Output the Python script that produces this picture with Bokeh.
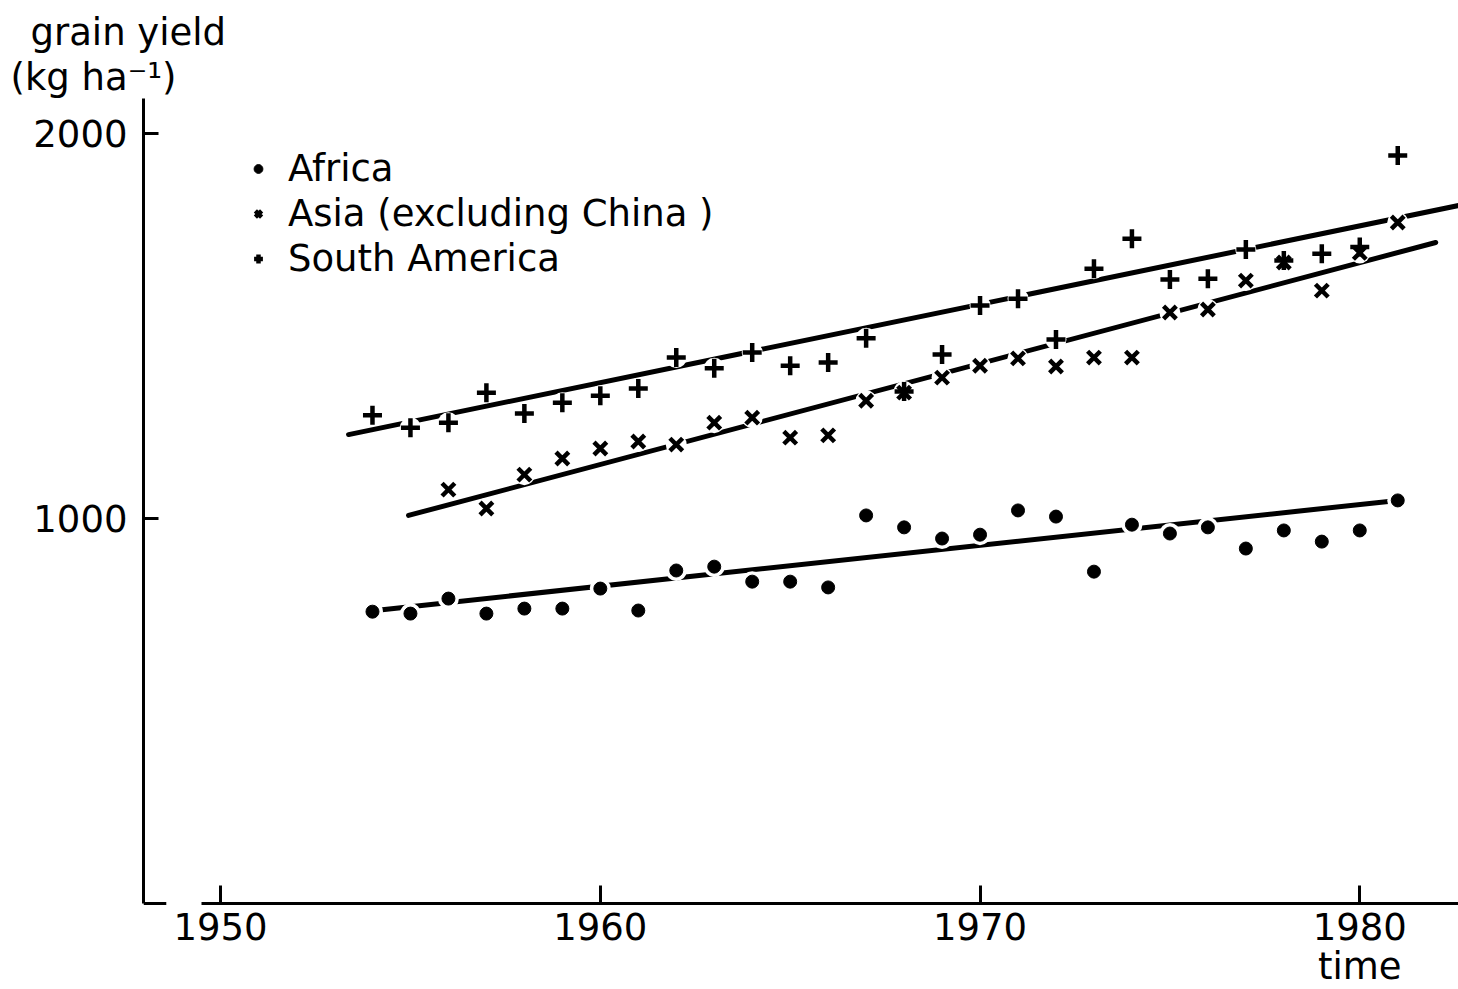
from bokeh.plotting import figure
from bokeh.models import FixedTicker, Legend, LegendItem, Range1d, Title, LinearAxis
from bokeh.embed import file_html
from bokeh.resources import INLINE

# ---- data ----
years_africa = list(range(1954, 1982))
africa = [758, 753, 792, 753, 766, 766, 818, 761, 865, 875, 836, 836, 821, 1008,
          977, 948, 958, 1021, 1005, 862, 984, 961, 977, 922, 969, 940, 969, 1047]

years_asia = list(range(1956, 1982))
asia = [1075, 1026, 1114, 1156, 1182, 1200, 1192, 1249, 1262, 1210, 1216, 1306,
        1327, 1366, 1397, 1416, 1395, 1418, 1418, 1535, 1543, 1618, 1665, 1592,
        1690, 1769]

years_south_america = list(range(1954, 1982))
south_america = [1268, 1236, 1249, 1327, 1273, 1301, 1319, 1338, 1418, 1390, 1431,
                 1397, 1405, 1468, 1330, 1426, 1553, 1571, 1465, 1649, 1727, 1621,
                 1623, 1699, 1670, 1688, 1705, 1943]

# fitted trend lines (end points)
trend_years_africa = [1953.95, 1981.0]
trend_africa = [760, 1047]
trend_years_asia = [1954.95, 1982.0]
trend_asia = [1008, 1717]
trend_years_south_america = [1953.37, 1982.6]
trend_south_america = [1218, 1813]

x_ticks = [1950, 1960, 1970, 1980]
y_ticks = [1000, 2000]
series_labels = ["Africa", "Asia (excluding China )", "South America"]
x_title = "time"
y_title = ["grain yield", "(kg ha⁻¹)"]

FONT = "DejaVu Sans"
FS = "37px"

p = figure(width=1458, height=989,
           x_range=Range1d(1947.97, 1982.6), y_range=Range1d(-223.4, 2091),
           output_backend="svg", toolbar_location=None,
           min_border_left=143, min_border_right=0,
           min_border_top=98, min_border_bottom=0)
p.outline_line_color = None
p.xgrid.visible = False
p.ygrid.visible = False
p.background_fill_color = "white"
p.border_fill_color = "white"

# axes
for ax in (p.xaxis, p.yaxis):
    ax.axis_line_width = 3
    ax.axis_line_color = "black"
    ax.major_tick_line_width = 3
    ax.major_tick_line_color = "black"
    ax.major_tick_out = 0
    ax.minor_tick_in = 0
    ax.minor_tick_out = 0
    ax.major_label_text_font = FONT
    ax.major_label_text_font_size = FS
    ax.major_label_text_color = "black"

p.xaxis.ticker = FixedTicker(ticks=x_ticks)
p.xaxis.major_tick_in = 18
p.xaxis.major_label_standoff = 10
p.xaxis.bounds = (1949.5, 1982.6)
p.xaxis.fixed_location = 0

p.yaxis.ticker = FixedTicker(ticks=y_ticks)
p.yaxis.major_tick_in = 15
p.yaxis.major_label_standoff = 16
p.yaxis.bounds = (0, 2091)

# "time" written under the last tick label
time_axis = LinearAxis(ticker=FixedTicker(ticks=[x_ticks[-1]]),
                       major_label_overrides={x_ticks[-1]: x_title},
                       fixed_location=0,
                       axis_line_color=None, major_tick_line_color=None,
                       minor_tick_line_color=None, major_label_standoff=36,
                       major_label_text_font=FONT, major_label_text_font_size=FS,
                       major_label_text_color="black")
p.add_layout(time_axis, "below")

# y-axis title, two lines, top left
p.add_layout(Title(text=y_title[1], align="left", offset=-133, standoff=0,
                   text_font=FONT, text_font_size=FS, text_font_style="normal",
                   text_color="black"), "above")
p.add_layout(Title(text=y_title[0], align="left", offset=-113, standoff=0,
                   text_font=FONT, text_font_size=FS, text_font_style="normal",
                   text_color="black"), "above")

# short hook at the foot of the y axis
p.segment(x0=[p.x_range.start], y0=[0], x1=[p.x_range.start + 0.6], y1=[0],
          line_width=3, line_color="black")

# trend lines
for tx, ty in ((trend_years_africa, trend_africa),
               (trend_years_asia, trend_asia),
               (trend_years_south_america, trend_south_america)):
    p.line(tx, ty, line_width=5, line_color="black", line_cap="round")

# white halos (gaps in lines around the points)
for xs, ys in ((years_africa, africa), (years_asia, asia),
               (years_south_america, south_america)):
    p.scatter(xs, ys, marker="circle", size=21, fill_color="white", line_color=None)

r_af = p.scatter(years_africa, africa, marker="circle", size=13,
                 fill_color="black", line_color="black")
r_as = p.scatter(years_asia, asia, marker="x", size=18, line_width=4.5,
                 line_color="black")
r_sa = p.scatter(years_south_america, south_america, marker="cross", size=19,
                 line_width=4.5, line_color="black")

legend = Legend(items=[LegendItem(label=series_labels[0], renderers=[r_af]),
                       LegendItem(label=series_labels[1], renderers=[r_as]),
                       LegendItem(label=series_labels[2], renderers=[r_sa])],
                location=(104, 708), orientation="vertical",
                border_line_color=None, background_fill_alpha=0,
                padding=0, margin=0, spacing=0,
                glyph_width=22, glyph_height=45, label_height=45,
                label_standoff=19, label_text_font=FONT,
                label_text_font_size=FS, label_text_color="black")
p.add_layout(legend)

open("out.html", "w").write(file_html(p, INLINE))
